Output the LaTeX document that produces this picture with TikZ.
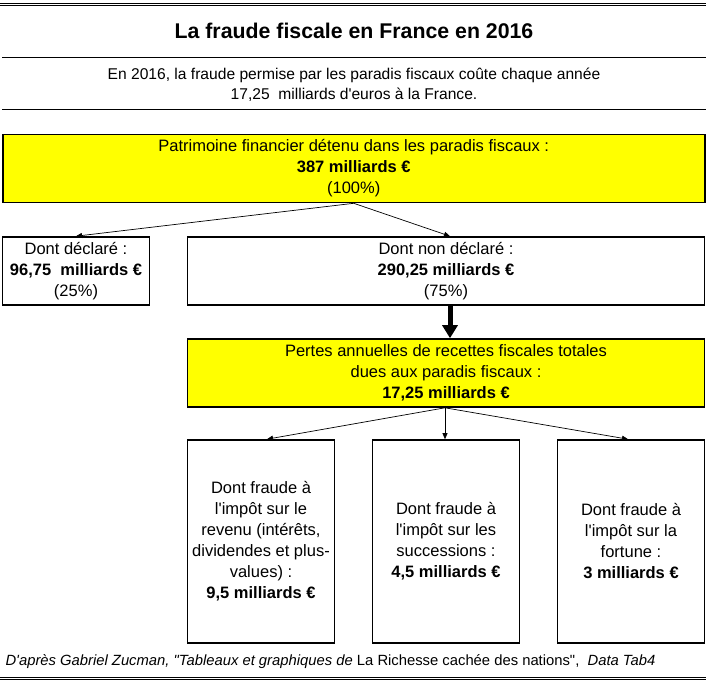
\documentclass[tikz,border=0pt]{standalone}
\usepackage{fontspec}
\newfontfamily\arialfont{Liberation Sans}
\usetikzlibrary{arrows.meta, positioning}
\definecolor{boxyellow}{RGB}{255,255,0}

\tikzset{
  box/.style={draw, line width=1.6pt, fill=white, align=center, inner sep=0pt,
    font=\arialfont\fontsize{16.5}{21}\selectfont},
  yellowbox/.style={box, fill=boxyellow},
  link/.style={-{Triangle[length=6pt,width=5pt]}, line width=0.7pt},
  bigarrow/.style={-{Triangle[length=13pt,width=15pt]}, line width=5pt},
  rule/.style={line width=0.8pt}
}

\begin{document}
\begin{tikzpicture}[x=1pt, y=-1pt]
\useasboundingbox (0,0) rectangle (710,684);
% header
\draw[rule] (0,3) -- (706,3);
\draw[rule] (0,5.5) -- (706,5.5);
\node[font=\arialfont\fontsize{21.3}{25}\selectfont\bfseries] (title) at (354,31)
  {La fraude fiscale en France en 2016};
\draw[rule] (2,57) -- (706,57);
\node[align=center, font=\arialfont\fontsize{15.6}{20}\selectfont] (intro) at (354,85)
  {En 2016, la fraude permise par les paradis fiscaux coûte chaque année\\
   17,25\ \ milliards d'euros à la France.};
\draw[rule] (2,109) -- (706,109);

% boxes
\node[yellowbox, minimum width=702, minimum height=68] (wealth) at (353.75,168.5)
  {Patrimoine financier détenu dans les paradis fiscaux :\\
   \textbf{387 milliards €}\\ (100\%)};
\node[box, minimum width=147, minimum height=68] (declared) at (76,271)
  {Dont déclaré :\\ \textbf{96,75\ \ milliards €}\\ (25\%)};
\node[box, minimum width=517, minimum height=68] (hidden) at (446,271)
  {Dont non déclaré :\\ \textbf{290,25 milliards €}\\ (75\%)};
\node[yellowbox, minimum width=517, minimum height=68] (losses) at (446,373)
  {Pertes annuelles de recettes fiscales totales\\
   dues aux paradis fiscaux :\\ \textbf{17,25 milliards €}};
\node[box, minimum width=147, minimum height=203] (income) at (261,541.5)
  {Dont fraude à\\ l'impôt sur le\\ revenu (intérêts,\\ dividendes et plus-\\
   values) :\\ \textbf{9,5 milliards €}};
\node[box, minimum width=147, minimum height=203] (estates) at (446,541.5)
  {Dont fraude à\\ l'impôt sur les\\ successions :\\ \textbf{4,5 milliards €}};
\node[box, minimum width=147, minimum height=203] (fortune) at (631,541.5)
  {Dont fraude à\\ l'impôt sur la\\ fortune :\\ \textbf{3 milliards €}};

% connectors
\draw[link] (wealth.south) -- (declared.north);
\draw[link] (wealth.south) -- ([xshift=4pt]hidden.north);
\draw[bigarrow] ([xshift=4pt]hidden.south) -- ([xshift=4pt]losses.north);
\draw[link] ([xshift=-1pt]losses.south) -- ([xshift=6pt]income.north);
\draw[link] ([xshift=-1pt]losses.south) -- ([xshift=-1pt]estates.north);
\draw[link] ([xshift=-1pt]losses.south) -- ([xshift=-3pt]fortune.north);

% source
\node[anchor=west, font=\arialfont\fontsize{14.8}{18}\selectfont] (source) at (2,662)
  {\itshape D'après Gabriel Zucman, "Tableaux et graphiques de \upshape La Richesse cachée des nations",\ \ \itshape Data Tab4};
\draw[rule] (0,677) -- (706,677);
\draw[rule] (0,679.5) -- (706,679.5);
\end{tikzpicture}
\end{document}
